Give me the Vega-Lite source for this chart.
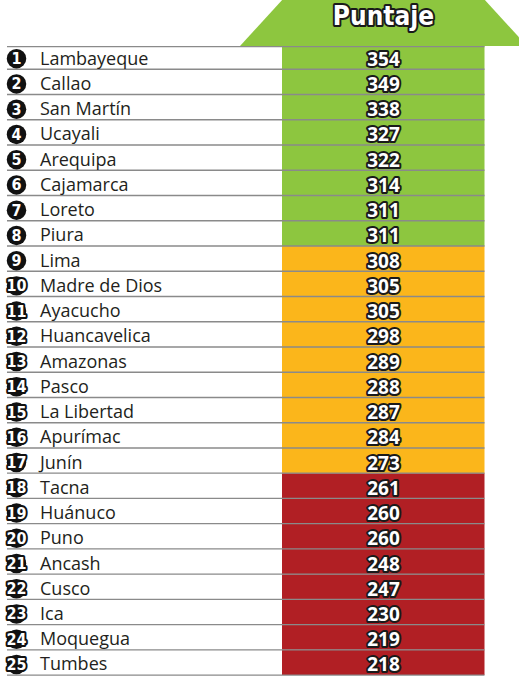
{
  "$schema": "https://vega.github.io/schema/vega-lite/v6.json",
  "width": 519,
  "height": 676,
  "autosize": {"type": "none"},
  "padding": 0,
  "background": "#ffffff",
  "config": {"view": {"stroke": null}},
  "data": {
    "values": [
      {"rank": 1, "region": "Lambayeque", "puntaje": 354, "nivel": "alto"},
      {"rank": 2, "region": "Callao", "puntaje": 349, "nivel": "alto"},
      {"rank": 3, "region": "San Martín", "puntaje": 338, "nivel": "alto"},
      {"rank": 4, "region": "Ucayali", "puntaje": 327, "nivel": "alto"},
      {"rank": 5, "region": "Arequipa", "puntaje": 322, "nivel": "alto"},
      {"rank": 6, "region": "Cajamarca", "puntaje": 314, "nivel": "alto"},
      {"rank": 7, "region": "Loreto", "puntaje": 311, "nivel": "alto"},
      {"rank": 8, "region": "Piura", "puntaje": 311, "nivel": "alto"},
      {"rank": 9, "region": "Lima", "puntaje": 308, "nivel": "medio"},
      {"rank": 10, "region": "Madre de Dios", "puntaje": 305, "nivel": "medio"},
      {"rank": 11, "region": "Ayacucho", "puntaje": 305, "nivel": "medio"},
      {"rank": 12, "region": "Huancavelica", "puntaje": 298, "nivel": "medio"},
      {"rank": 13, "region": "Amazonas", "puntaje": 289, "nivel": "medio"},
      {"rank": 14, "region": "Pasco", "puntaje": 288, "nivel": "medio"},
      {"rank": 15, "region": "La Libertad", "puntaje": 287, "nivel": "medio"},
      {"rank": 16, "region": "Apurímac", "puntaje": 284, "nivel": "medio"},
      {"rank": 17, "region": "Junín", "puntaje": 273, "nivel": "medio"},
      {"rank": 18, "region": "Tacna", "puntaje": 261, "nivel": "bajo"},
      {"rank": 19, "region": "Huánuco", "puntaje": 260, "nivel": "bajo"},
      {"rank": 20, "region": "Puno", "puntaje": 260, "nivel": "bajo"},
      {"rank": 21, "region": "Ancash", "puntaje": 248, "nivel": "bajo"},
      {"rank": 22, "region": "Cusco", "puntaje": 247, "nivel": "bajo"},
      {"rank": 23, "region": "Ica", "puntaje": 230, "nivel": "bajo"},
      {"rank": 24, "region": "Moquegua", "puntaje": 219, "nivel": "bajo"},
      {"rank": 25, "region": "Tumbes", "puntaje": 218, "nivel": "bajo"}
    ]
  },
  "encoding": {
    "y": {
      "field": "rank",
      "type": "ordinal",
      "axis": null,
      "scale": {"type": "band", "range": [44.06, 675.1], "paddingInner": 0, "paddingOuter": 0}
    }
  },
  "layer": [
    {
      "mark": {"type": "rect"},
      "encoding": {
        "x": {"value": 282},
        "x2": {"value": 484.5},
        "color": {
          "field": "nivel",
          "type": "nominal",
          "legend": null,
          "scale": {"domain": ["alto", "medio", "bajo"], "range": ["#8DC63F", "#FBB61B", "#B11F24"]}
        }
      }
    },
    {
      "transform": [{"filter": "datum.rank == 1"}],
      "mark": {"type": "point", "shape": "M-1,0L0,-1.094L1,0Z", "size": 82369, "filled": true, "fill": "#8DC63F", "opacity": 1, "strokeWidth": 0},
      "encoding": {
        "x": {"value": 383.5},
        "y": {"field": "rank", "type": "ordinal", "bandPosition": 0.08}
      }
    },
    {
      "mark": {"type": "rule", "stroke": "#8a8a8a", "strokeWidth": 1.4},
      "encoding": {
        "x": {"value": 7},
        "x2": {"value": 484.5},
        "y": {"field": "rank", "type": "ordinal", "bandPosition": 1}
      }
    },
    {
      "transform": [{"filter": "datum.rank == 1"}],
      "mark": {"type": "rule", "stroke": "#8a8a8a", "strokeWidth": 1.4},
      "encoding": {
        "x": {"value": 7},
        "x2": {"value": 484.5},
        "y": {"field": "rank", "type": "ordinal", "bandPosition": 0.1}
      }
    },
    {
      "transform": [{"filter": "datum.rank == 1"}],
      "mark": {"type": "text", "text": "Puntaje", "font": "DejaVu Sans Condensed", "fontWeight": "bold", "fontSize": 26, "align": "center", "baseline": "alphabetic", "dy": -31.7, "fill": "#1a1a1a", "stroke": "#1a1a1a", "strokeWidth": 4, "strokeJoin": "round"},
      "encoding": {"x": {"value": 383.5}}
    },
    {
      "transform": [{"filter": "datum.rank == 1"}],
      "mark": {"type": "text", "text": "Puntaje", "font": "DejaVu Sans Condensed", "fontWeight": "bold", "fontSize": 26, "align": "center", "baseline": "alphabetic", "dy": -31.7, "fill": "#ffffff"},
      "encoding": {"x": {"value": 383.5}}
    },
    {
      "mark": {"type": "point", "shape": "circle", "size": 380, "filled": true, "fill": "#111111", "opacity": 1, "strokeWidth": 0},
      "encoding": {"x": {"value": 16.5}, "y": {"field": "rank", "type": "ordinal", "bandPosition": 0.58}}
    },
    {
      "mark": {"type": "text", "font": "DejaVu Sans Condensed", "fontWeight": "bold", "fontSize": 16, "align": "center", "baseline": "middle", "dy": 2.5, "fill": "#111111", "stroke": "#111111", "strokeWidth": 4, "strokeJoin": "round"},
      "encoding": {"x": {"value": 16.5}, "text": {"field": "rank", "type": "ordinal"}}
    },
    {
      "mark": {"type": "text", "font": "DejaVu Sans Condensed", "fontWeight": "bold", "fontSize": 16, "align": "center", "baseline": "middle", "dy": 2.5, "fill": "#ffffff"},
      "encoding": {"x": {"value": 16.5}, "text": {"field": "rank", "type": "ordinal"}}
    },
    {
      "mark": {"type": "text", "font": "Open Sans", "fontSize": 18, "align": "left", "baseline": "middle", "dy": 3, "fill": "#231f20"},
      "encoding": {"x": {"value": 40}, "text": {"field": "region", "type": "nominal"}}
    },
    {
      "mark": {"type": "text", "font": "Open Sans", "fontWeight": "bold", "fontSize": 19, "align": "center", "baseline": "middle", "dy": 3, "fill": "#1a1a1a", "stroke": "#1a1a1a", "strokeWidth": 4, "strokeJoin": "round"},
      "encoding": {"x": {"value": 383.5}, "text": {"field": "puntaje", "type": "quantitative"}}
    },
    {
      "mark": {"type": "text", "font": "Open Sans", "fontWeight": "bold", "fontSize": 19, "align": "center", "baseline": "middle", "dy": 3, "fill": "#ffffff"},
      "encoding": {"x": {"value": 383.5}, "text": {"field": "puntaje", "type": "quantitative"}}
    }
  ]
}
